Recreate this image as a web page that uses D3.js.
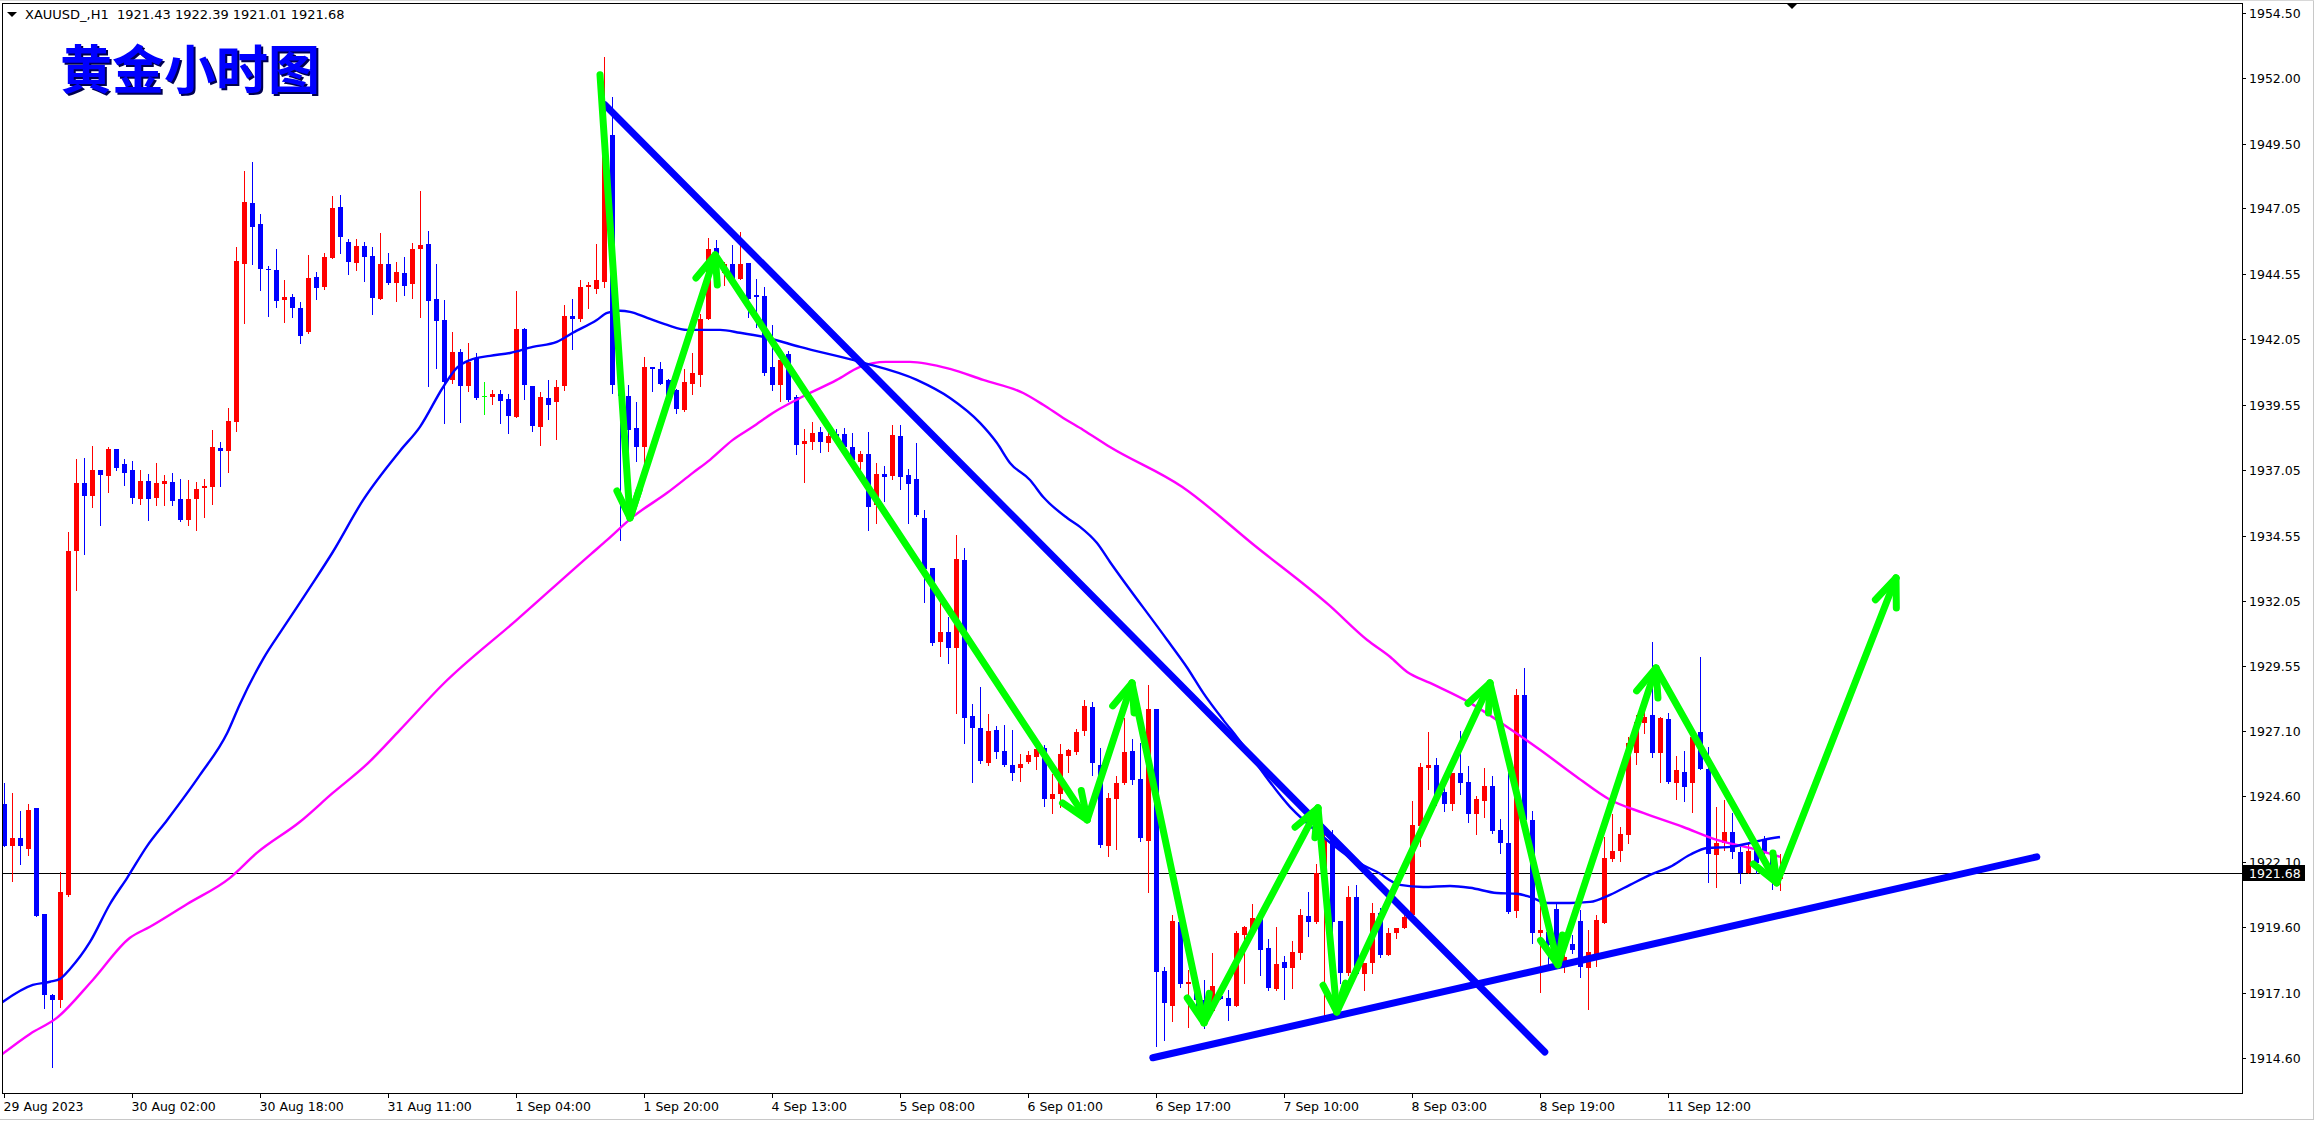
<!DOCTYPE html>
<html><head><meta charset="utf-8">
<script src="https://cdn.jsdelivr.net/npm/d3@7"></script>
<style>html,body{margin:0;padding:0;background:#fff;overflow:hidden}</style>
</head><body>
<svg id="c" width="2316" height="1122"></svg>
<script>
// ---------- DATA (XAUUSD H1) ----------
const opens=[1924.31,1922.70,1923.01,1922.59,1924.15,1920.11,1917.01,1916.82,1920.83,1933.96,1936.56,1936.06,1937.06,1936.83,1937.86,1937.29,1937.06,1935.95,1936.64,1935.99,1936.52,1936.60,1935.95,1935.15,1935.95,1936.37,1936.41,1937.90,1937.78,1938.89,1944.92,1947.25,1946.45,1944.73,1944.69,1943.55,1943.66,1943.24,1942.32,1944.42,1944.04,1945.15,1947.10,1945.76,1944.96,1945.61,1945.23,1943.58,1944.92,1944.19,1944.58,1944.16,1945.49,1945.68,1943.58,1942.78,1940.49,1941.56,1940.26,1941.33,1939.88,1939.84,1939.96,1939.77,1939.08,1942.44,1940.26,1938.70,1939.80,1939.65,1940.26,1942.94,1942.82,1944.04,1943.97,1944.23,1949.85,1940.19,1939.88,1938.66,1937.93,1940.99,1940.91,1940.49,1940.11,1939.35,1940.34,1940.68,1942.82,1945.53,1944.58,1944.92,1944.35,1944.96,1943.74,1943.70,1940.99,1940.30,1941.48,1939.84,1938.05,1938.12,1938.51,1938.09,1938.43,1938.43,1937.93,1937.36,1937.67,1935.72,1936.90,1936.83,1938.35,1936.87,1936.71,1935.22,1933.31,1930.49,1930.87,1930.26,1933.62,1927.66,1927.20,1925.87,1927.13,1926.33,1925.79,1925.68,1925.91,1926.10,1926.44,1924.49,1924.69,1926.14,1926.29,1927.09,1928.01,1925.79,1922.70,1924.49,1925.10,1926.33,1925.26,1922.89,1927.93,1917.93,1916.59,1919.80,1917.43,1917.43,1916.82,1916.40,1916.97,1916.90,1916.59,1919.30,1919.49,1919.95,1918.80,1917.24,1918.27,1918.04,1918.61,1920.03,1919.80,1921.67,1923.04,1919.84,1917.85,1920.75,1917.81,1918.23,1920.14,1918.54,1919.38,1919.57,1920.06,1923.46,1925.68,1925.79,1924.76,1924.30,1925.49,1925.14,1923.92,1924.42,1924.99,1923.31,1922.81,1920.22,1928.46,1923.69,1919.38,1919.42,1920.29,1918.16,1918.96,1919.84,1918.04,1918.58,1919.76,1922.20,1922.51,1923.12,1926.25,1927.40,1927.70,1926.25,1927.55,1925.10,1925.52,1925.10,1927.05,1925.64,1922.36,1922.81,1923.23,1922.47,1921.67,1922.55,1922.97,1922.28,1921.43];
const highs=[1925.10,1924.72,1924.04,1924.31,1924.15,1920.11,1917.05,1921.71,1934.69,1937.48,1937.52,1937.97,1937.06,1937.93,1937.86,1937.48,1937.40,1937.06,1936.90,1937.32,1936.87,1936.94,1936.71,1936.67,1936.60,1936.71,1938.58,1938.12,1939.42,1945.57,1948.47,1948.81,1946.83,1944.84,1945.49,1944.31,1943.78,1943.47,1945.26,1944.61,1945.34,1947.52,1947.55,1945.87,1945.87,1945.76,1945.57,1946.10,1945.34,1945.00,1945.19,1945.72,1947.71,1946.18,1944.92,1943.55,1942.32,1941.67,1941.90,1941.52,1940.41,1940.11,1940.11,1939.96,1943.89,1942.48,1940.26,1940.03,1940.49,1940.49,1943.36,1943.58,1944.31,1944.23,1945.68,1952.82,1951.30,1940.26,1940.30,1939.65,1941.37,1940.99,1941.18,1940.53,1940.15,1940.91,1941.52,1943.01,1945.91,1945.84,1945.00,1945.65,1946.14,1944.96,1944.35,1944.04,1942.59,1941.45,1941.60,1939.92,1938.62,1938.89,1938.70,1938.66,1938.62,1938.66,1938.47,1937.78,1938.51,1937.32,1937.21,1938.77,1938.77,1937.09,1938.09,1935.53,1933.31,1931.98,1931.44,1934.57,1934.08,1928.12,1928.77,1927.74,1927.28,1927.32,1927.13,1926.21,1926.33,1926.48,1926.56,1925.45,1926.59,1926.40,1927.17,1928.27,1928.20,1926.44,1924.72,1925.37,1927.59,1926.78,1926.63,1928.85,1927.93,1918.08,1920.07,1919.87,1917.96,1917.47,1917.58,1918.61,1917.35,1917.20,1919.45,1919.65,1920.48,1919.95,1919.15,1919.61,1918.50,1919.07,1920.29,1920.94,1922.01,1923.20,1923.31,1919.84,1921.17,1921.21,1918.23,1920.52,1920.33,1919.57,1919.57,1920.22,1924.42,1925.87,1927.05,1926.06,1925.10,1925.49,1927.09,1925.75,1924.61,1925.68,1925.37,1923.73,1925.49,1928.69,1929.49,1924.04,1920.41,1919.45,1920.56,1918.54,1919.30,1920.26,1919.49,1920.06,1923.04,1923.92,1923.42,1926.86,1927.70,1927.82,1930.49,1927.62,1927.78,1926.14,1926.33,1927.13,1929.92,1926.48,1924.19,1924.46,1923.96,1922.66,1922.85,1922.66,1923.08,1922.47,1922.39];
const lows=[1922.70,1921.37,1922.02,1922.36,1920.03,1916.51,1914.26,1916.55,1920.79,1932.47,1933.85,1935.64,1934.96,1936.22,1937.06,1936.48,1935.80,1935.76,1935.15,1935.72,1935.72,1935.72,1935.11,1934.96,1934.76,1935.26,1935.76,1936.44,1936.98,1938.54,1942.67,1944.92,1943.93,1942.94,1943.28,1942.71,1942.90,1941.90,1942.29,1943.58,1943.97,1945.15,1945.34,1944.54,1944.69,1944.27,1943.01,1943.58,1944.16,1943.51,1943.74,1943.62,1942.90,1940.26,1940.95,1938.85,1940.38,1938.89,1940.07,1939.77,1939.19,1939.58,1938.85,1938.47,1939.08,1939.77,1938.54,1938.01,1939.00,1938.24,1940.11,1941.67,1942.74,1943.24,1943.81,1944.04,1939.99,1934.38,1937.44,1937.40,1937.17,1940.07,1940.34,1939.84,1939.23,1939.31,1939.96,1940.26,1942.82,1944.08,1944.12,1944.31,1944.35,1942.90,1942.51,1940.68,1940.11,1939.69,1939.69,1937.67,1936.60,1937.86,1937.74,1937.78,1938.09,1937.70,1937.17,1937.02,1934.76,1935.03,1935.87,1936.71,1936.33,1935.03,1935.30,1932.02,1930.37,1929.95,1929.69,1927.78,1926.63,1925.14,1925.87,1925.79,1926.06,1925.75,1925.22,1925.18,1925.87,1925.64,1924.23,1923.96,1924.19,1925.52,1926.21,1926.94,1925.41,1922.66,1922.32,1922.59,1925.07,1925.07,1922.89,1920.94,1915.06,1915.29,1916.02,1917.32,1915.79,1916.44,1915.75,1916.40,1916.86,1916.06,1916.59,1917.47,1919.49,1917.78,1917.20,1917.20,1916.86,1917.28,1918.38,1919.26,1919.76,1916.17,1917.85,1917.47,1917.77,1917.81,1917.20,1917.85,1918.46,1918.54,1919.19,1919.57,1920.06,1922.70,1924.88,1924.26,1924.04,1924.07,1924.69,1923.62,1923.16,1923.81,1923.20,1922.43,1920.14,1919.99,1923.31,1919.00,1917.12,1918.16,1918.58,1917.89,1918.61,1917.70,1916.48,1918.12,1919.76,1922.13,1922.13,1922.81,1925.83,1927.01,1926.10,1925.14,1925.10,1924.49,1924.42,1924.00,1925.64,1921.33,1921.13,1922.55,1922.24,1921.29,1921.67,1921.67,1922.28,1921.06,1921.01];
const closes=[1922.70,1923.01,1922.70,1924.08,1920.03,1917.01,1916.82,1920.95,1933.96,1936.56,1936.06,1937.06,1936.87,1937.86,1937.14,1936.94,1935.99,1936.64,1935.95,1936.56,1936.64,1935.87,1935.15,1935.95,1936.33,1936.44,1937.93,1937.78,1938.93,1945.03,1947.29,1946.33,1944.73,1944.69,1943.51,1943.66,1943.24,1942.17,1944.39,1944.00,1945.19,1947.06,1945.95,1945.00,1945.61,1945.19,1943.62,1944.92,1944.19,1944.61,1944.08,1945.49,1945.65,1943.51,1942.74,1940.41,1941.56,1940.26,1941.18,1939.80,1939.88,1939.96,1939.69,1939.12,1942.44,1940.30,1938.73,1939.84,1939.54,1940.22,1942.94,1942.82,1944.04,1944.12,1944.31,1949.65,1940.30,1939.88,1938.58,1937.93,1940.99,1940.91,1940.34,1939.84,1939.38,1940.41,1940.76,1942.82,1945.49,1944.58,1944.92,1944.31,1944.92,1943.58,1943.66,1940.76,1940.30,1941.25,1939.73,1938.01,1938.16,1938.47,1938.12,1938.35,1938.31,1937.93,1937.44,1937.67,1935.64,1936.90,1936.79,1938.39,1936.79,1936.52,1935.34,1933.27,1930.45,1930.87,1930.26,1933.66,1927.59,1927.20,1925.94,1927.09,1926.29,1925.79,1925.49,1925.83,1926.17,1926.40,1924.49,1924.69,1926.21,1926.37,1927.05,1928.04,1925.87,1922.74,1924.53,1925.10,1926.29,1925.22,1923.01,1927.93,1917.89,1916.70,1919.84,1917.43,1917.51,1916.82,1916.44,1917.35,1916.86,1916.59,1919.38,1919.61,1919.95,1918.73,1917.28,1918.19,1918.04,1918.65,1920.06,1919.80,1921.67,1922.93,1919.80,1917.85,1920.75,1917.81,1918.23,1920.14,1918.54,1919.38,1919.57,1919.99,1923.50,1925.72,1925.79,1924.65,1924.30,1925.49,1925.10,1923.92,1924.49,1924.99,1923.27,1922.81,1920.18,1928.46,1923.69,1919.38,1919.49,1918.92,1918.58,1918.46,1918.73,1918.08,1918.65,1919.87,1922.24,1922.51,1923.16,1926.63,1927.43,1927.62,1926.25,1927.59,1925.14,1925.60,1924.95,1926.86,1925.64,1922.39,1922.81,1923.23,1922.47,1921.67,1922.51,1922.05,1922.43,1921.45,1921.68];

const timeTickIdx=[0,16,32,48,64,80,96,112,128,144,160,176,192,208];
const timeTickLabels=["29 Aug 2023","30 Aug 02:00","30 Aug 18:00","31 Aug 11:00","1 Sep 04:00","1 Sep 20:00","4 Sep 13:00","5 Sep 08:00","6 Sep 01:00","6 Sep 17:00","7 Sep 10:00","8 Sep 03:00","8 Sep 19:00","11 Sep 12:00"];
const priceTicks=[1954.50,1952.00,1949.50,1947.05,1944.55,1942.05,1939.55,1937.05,1934.55,1932.05,1929.55,1927.10,1924.60,1922.10,1919.60,1917.10,1914.60];

const maFastIdx=[-0.5,3.6,5.75,7,8.25,10.75,13.25,15.4,17.9,20.4,24.5,27.9,29.5,32.4,34.9,38.25,41.1,44.9,49.5,52,54.9,56.6,58.25,60.75,63.25,66.1,69.1,71.1,74.1,75.4,77,78.25,80.4,82.9,85.4,89.5,92,95.4,99.5,107,114.1,118.25,122,124.1,125.75,128.25,129.9,132.9,134.5,136.6,138.25,145.4,147.9,149.9,152.4,154.1,160.75,164.9,169.1,171.6,174.5,177.4,180.75,183.25,186.6,189.1,190.75,192.9,195.75,198.25,200.75,203.25,205.75,208.25,210.75,212.9,215.75,218.25,219.9,222];
const maFastVal=[1916.67,1917.39,1917.51,1917.62,1918.00,1919.03,1920.48,1921.48,1922.70,1923.69,1925.41,1927.01,1928.12,1929.84,1931.02,1932.57,1933.92,1935.91,1937.78,1938.70,1940.22,1940.95,1941.25,1941.41,1941.52,1941.75,1941.94,1942.29,1942.78,1943.05,1943.13,1943.09,1942.86,1942.59,1942.40,1942.40,1942.29,1942.10,1941.75,1941.18,1940.49,1939.80,1938.85,1938.09,1937.32,1936.67,1936.02,1935.22,1934.88,1934.27,1933.54,1930.56,1929.50,1928.54,1927.51,1926.86,1924.19,1923.04,1922.09,1921.71,1921.21,1921.13,1921.17,1921.10,1920.90,1920.87,1920.75,1920.52,1920.52,1920.56,1920.83,1921.21,1921.59,1921.90,1922.36,1922.62,1922.66,1922.81,1922.93,1923.04];
const maSlowIdx=[-0.5,3.25,6.6,11.1,15.75,18.25,22.9,28.25,31.6,37,41.1,45.4,49.5,54.9,64.1,73.4,75.4,78.6,82.9,86.1,88.25,91.1,93.6,96.1,99.5,104.1,107,110.25,113.25,118.25,122.4,127.4,129.9,132.4,134.9,138.25,147.25,156.4,165.6,170.4,173.25,175.4,178.25,183.25,187.9,192,196.6,200.75,204.9,209.9,214.1,218.25,222];
const maSlowVal=[1914.68,1915.52,1916.13,1917.58,1919.19,1919.61,1920.48,1921.48,1922.43,1923.62,1924.72,1925.83,1927.13,1928.88,1931.33,1933.85,1934.38,1935.26,1936.18,1936.94,1937.44,1938.20,1938.70,1939.23,1939.80,1940.49,1940.99,1941.18,1941.18,1940.91,1940.49,1939.99,1939.54,1939.04,1938.58,1937.93,1936.41,1934.15,1931.90,1930.56,1929.92,1929.34,1928.92,1928.16,1927.24,1926.37,1925.33,1924.46,1923.96,1923.42,1922.93,1922.62,1922.28];

const downTrendIdx=[75.1,192.6], downTrendVal=[1951.00,1914.83];
const upTrendIdx=[143.6,254.1],  upTrendVal=[1914.61,1922.28];
const zigIdx=[74.5,78.25,88.9,135.4,141,150,164.25,166.6,185.75,194.25,206.5,221.6,236.5];
const zigVal=[1952.14,1935.22,1945.26,1923.69,1928.92,1915.94,1924.15,1916.36,1928.92,1918.16,1929.49,1921.29,1932.93];
const lastPrice=1921.68;
const headerText="XAUUSD_,H1  1921.43 1922.39 1921.01 1921.68";
const titleText="黄金小时图";

// ---------- DRAW ----------
const svg=d3.select('#c');
const L=2,R=2242,T=3,B=1093;
const x=d3.scaleLinear().domain([-0.25,279.75]).range([L,R]);
const y=d3.scaleLinear().domain([1914.6,1954.5]).range([1058,13]);
const font='"DejaVu Sans", Verdana, sans-serif';

svg.append('rect').attr('x',0).attr('y',0).attr('width',2316).attr('height',1122).attr('fill','#ffffff');
svg.append('line').attr('x1',2313.5).attr('x2',2313.5).attr('y1',0).attr('y2',1120).attr('stroke','#c8c8c8');
svg.append('line').attr('x1',0).attr('x2',2314).attr('y1',1119.5).attr('y2',1119.5).attr('stroke','#c8c8c8');
svg.append('line').attr('x1',0).attr('x2',2314).attr('y1',0.5).attr('y2',0.5).attr('stroke','#d8d8d8');

svg.append('clipPath').attr('id','plot').append('rect').attr('x',L+1).attr('y',T+1).attr('width',R-L-1).attr('height',B-T-1);
const g=svg.append('g').attr('clip-path','url(#plot)');

// current price line
g.append('line').attr('x1',L).attr('x2',R).attr('y1',Math.round(y(lastPrice))+0.5).attr('y2',Math.round(y(lastPrice))+0.5)
  .attr('stroke','#000').attr('stroke-width',1).attr('shape-rendering','crispEdges');

const data=opens.map((o,i)=>({i,o,h:highs[i],l:lows[i],c:closes[i]}));
const col=d=>d.c>d.o?'#FF0000':(d.c<d.o?'#0000FF':'#00FF00');
const cg=g.append('g').attr('shape-rendering','crispEdges');
cg.selectAll('line.w').data(data).join('line').attr('class','w')
  .attr('x1',d=>Math.round(x(d.i))+0.5).attr('x2',d=>Math.round(x(d.i))+0.5)
  .attr('y1',d=>Math.round(y(d.h))).attr('y2',d=>Math.round(y(d.l))+1)
  .attr('stroke',col).attr('stroke-width',1);
cg.selectAll('rect.b').data(data).join('rect').attr('class','b')
  .attr('x',d=>Math.round(x(d.i))-2).attr('width',5)
  .attr('y',d=>Math.round(y(Math.max(d.o,d.c))))
  .attr('height',d=>Math.max(1,Math.round(y(Math.min(d.o,d.c)))-Math.round(y(Math.max(d.o,d.c)))))
  .attr('fill',col);

// moving averages
const maLine=d3.line().x(d=>x(d[0])).y(d=>y(d[1])).curve(d3.curveMonotoneX);
g.append('path').attr('d',maLine(maSlowIdx.map((v,k)=>[v,maSlowVal[k]]))).attr('fill','none').attr('stroke','#FF00FF').attr('stroke-width',2.4);
g.append('path').attr('d',maLine(maFastIdx.map((v,k)=>[v,maFastVal[k]]))).attr('fill','none').attr('stroke','#0000FF').attr('stroke-width',2.4);

// trend lines
const tl=(ix,vv)=>g.append('line').attr('x1',x(ix[0])).attr('y1',y(vv[0])).attr('x2',x(ix[1])).attr('y2',y(vv[1]))
  .attr('stroke','#0000FF').attr('stroke-width',7).attr('stroke-linecap','round');
tl(downTrendIdx,downTrendVal);
tl(upTrendIdx,upTrendVal);

// green zigzag arrows
const pts=zigIdx.map((v,k)=>[x(v),y(zigVal[k])]);
const ag=g.append('g').attr('stroke','#00FF00').attr('stroke-width',7).attr('stroke-linecap','round').attr('fill','none');
ag.append('path').attr('d',d3.line()(pts)).attr('stroke-linejoin','round');
const th=22*Math.PI/180, len=30;
for(let k=1;k<pts.length;k++){
  const [x0,y0]=pts[k-1],[x1,y1]=pts[k];
  const a=Math.atan2(y0-y1,x0-x1);
  [a+th,a-th].forEach(b=>ag.append('line').attr('x1',x1).attr('y1',y1).attr('x2',x1+len*Math.cos(b)).attr('y2',y1+len*Math.sin(b)));
}

// frame
svg.append('rect').attr('x',L+0.5).attr('y',T+0.5).attr('width',R-L).attr('height',B-T).attr('fill','none').attr('stroke','#000').attr('shape-rendering','crispEdges');

// price axis
const pa=svg.append('g');
priceTicks.forEach(p=>{
  const yy=Math.round(y(p))+0.5;
  pa.append('line').attr('x1',R).attr('x2',R+4).attr('y1',yy).attr('y2',yy).attr('stroke','#000').attr('shape-rendering','crispEdges');
  pa.append('text').attr('x',R+7).attr('y',yy).attr('dominant-baseline','central').attr('font-family',font).attr('font-size',12.5).attr('fill','#000').text(p.toFixed(2));
});
const ly=Math.round(y(lastPrice));
svg.append('rect').attr('x',R+1).attr('y',ly-8).attr('width',62).attr('height',16).attr('fill','#000');
svg.append('text').attr('x',R+7).attr('y',ly+0.5).attr('dominant-baseline','central').attr('font-family',font).attr('font-size',12.5).attr('fill','#fff').text(lastPrice.toFixed(2));

// time axis
timeTickIdx.forEach((ti,k)=>{
  const xx=Math.round(x(ti))+0.5;
  svg.append('line').attr('x1',xx).attr('x2',xx).attr('y1',B).attr('y2',B+5).attr('stroke','#000').attr('shape-rendering','crispEdges');
  svg.append('text').attr('x',xx-1).attr('y',B+18).attr('font-family',font).attr('font-size',12.5).attr('fill','#000').text(timeTickLabels[k]);
});

// header & title
svg.append('polygon').attr('points','7,12 17,12 12,17').attr('fill','#000');
svg.append('text').attr('x',25).attr('y',19).attr('font-family',font).attr('font-size',13).attr('fill','#000').attr('xml:space','preserve').style('white-space','pre').text(headerText);
svg.append('polygon').attr('points','1786,3 1798,3 1792,9').attr('fill','#000');
svg.append('text').attr('x',62).attr('y',91).attr('font-family','"Noto Sans CJK SC", sans-serif').attr('font-weight',700).attr('font-size',52).attr('fill','#000050').text(titleText);
svg.append('text').attr('x',60).attr('y',89).attr('font-family','"Noto Sans CJK SC", sans-serif').attr('font-weight',700).attr('font-size',52).attr('fill','#0000FF').text(titleText);
</script>
</body></html>
